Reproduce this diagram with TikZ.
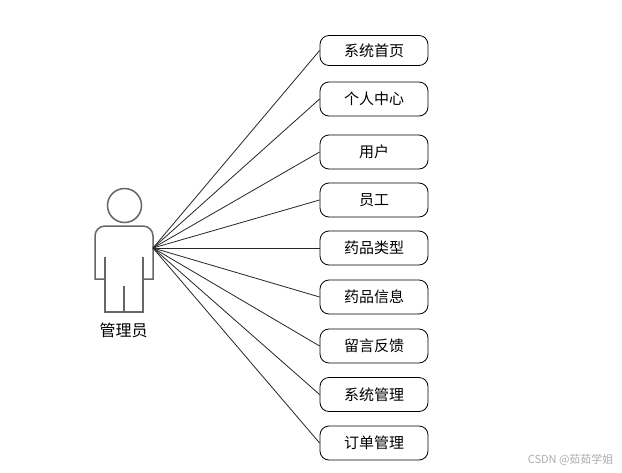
\documentclass[tikz,border=0pt]{standalone}
\usepackage{fontspec}
\setmainfont{Noto Sans CJK SC}
\begin{document}
\begin{tikzpicture}[x=1pt,y=-1pt,
  item/.style={draw=black,line width=0.8pt,rounded corners=9pt,minimum width=108pt,minimum height=#1,inner sep=0pt,font=\fontsize{15}{17}\selectfont,text=black},
  item/.default=34pt,
  link/.style={draw=black!85,line width=0.8pt},
  actorline/.style={draw=black!60,line width=1.5pt,line join=miter,line cap=butt}]
\useasboundingbox (0,0) rectangle (622,472);
\fill[white] (0,0) rectangle (622,472);
% actor
\node[draw=black!60,line width=1.5pt,circle,minimum size=34pt,inner sep=0pt] (head) at (124.5,205.5) {};
\draw[actorline] (105,279) -- (95,279) -- (95,236) .. controls (95,230.5) and (99.5,226) .. (105,226) -- (143,226) .. controls (148.5,226) and (153,230.5) .. (153,236) -- (153,279) -- (143,279);
\draw[actorline] (105,257) -- (105,312) -- (143,312) -- (143,257);
\draw[actorline] (124,286) -- (124,312);
\coordinate (hand) at (153,248);
\node[font=\fontsize{16}{18}\selectfont,text=black] (actorlabel) at (123.5,330.5) {管理员};
% items
\node[item=30pt] (a) at (374,50.5) {\raisebox{-0.7pt}{系统首页}};
\node[item] (b) at (374,99) {\raisebox{-0.7pt}{个人中心}};
\node[item] (c) at (374,152) {\raisebox{-0.7pt}{用户}};
\node[item] (d) at (374,200) {\raisebox{-0.7pt}{员工}};
\node[item] (e) at (374,248) {\raisebox{-0.7pt}{药品类型}};
\node[item] (f) at (374,297) {\raisebox{-0.7pt}{药品信息}};
\node[item] (g) at (374,346) {\raisebox{-0.7pt}{留言反馈}};
\node[item] (h) at (374,394.5) {\raisebox{-0.7pt}{系统管理}};
\node[item] (i) at (374,443) {\raisebox{-0.7pt}{订单管理}};
\foreach \n in {a,b,c,d,e,f,g,h,i} \draw[link] (hand) -- (\n.west);
\node[font=\fontsize{11}{13}\selectfont,text=black!32,anchor=east] (mark) at (617,460) {CSDN @茹茹学姐};
\end{tikzpicture}
\end{document}
